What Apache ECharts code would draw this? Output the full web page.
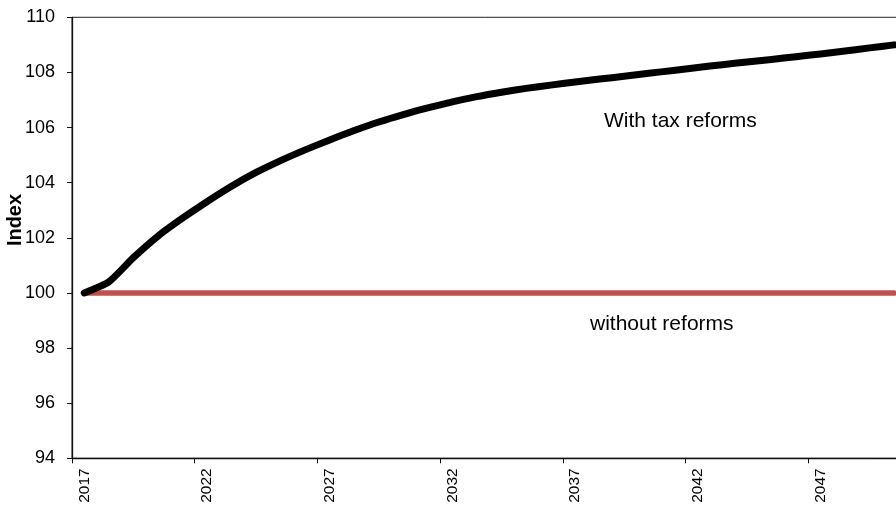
<!DOCTYPE html>
<html>
<head>
<meta charset="utf-8">
<script src="https://cdn.jsdelivr.net/npm/echarts@6/dist/echarts.min.js"></script>
<style>html,body{margin:0;padding:0;background:#fff;}#c{width:896px;height:506px;}</style>
</head>
<body>
<div id="c"></div>
<script>
const years = ['2017','2018','2019','2020','2021','2022','2023','2024','2025','2026','2027','2028','2029','2030','2031','2032','2033','2034','2035','2036','2037','2038','2039','2040','2041','2042','2043','2044','2045','2046','2047','2048','2049','2050'];
const withTaxReforms = [100.00,100.40,101.28,102.06,102.71,103.31,103.87,104.37,104.80,105.19,105.55,105.89,106.20,106.47,106.71,106.93,107.12,107.28,107.42,107.54,107.65,107.76,107.86,107.97,108.07,108.18,108.28,108.38,108.47,108.57,108.67,108.78,108.89,109.00];
const withoutReforms = [100,100,100,100,100,100,100,100,100,100,100,100,100,100,100,100,100,100,100,100,100,100,100,100,100,100,100,100,100,100,100,100,100,100];
const yTicks = {min: 94, max: 110, interval: 2};
const labels = {yName: 'Index', withLabel: 'With tax reforms', withoutLabel: 'without reforms'};

const font = 'Liberation Sans, Arial, sans-serif';
const chart = echarts.init(document.getElementById('c'), null, {renderer: 'canvas'});
chart.setOption({
  animation: false,
  backgroundColor: '#fff',
  grid: {left: 72, top: 17.3, height: 441, width: 834.4, outerBoundsMode: 'none', containLabel: false, show: true, borderColor: '#222', borderWidth: 1, backgroundColor: 'transparent'},
  xAxis: {
    type: 'category', data: years, boundaryGap: true,
    axisLine: {lineStyle: {color: '#111', width: 1.3}},
    axisTick: {show: true, interval: 4, length: 5, lineStyle: {color: '#111'}},
    axisLabel: {interval: 4, rotate: 90, margin: 10, color: '#000', fontSize: 15.5, fontFamily: font},
    splitLine: {show: false}
  },
  yAxis: {
    type: 'value', min: yTicks.min, max: yTicks.max, interval: yTicks.interval,
    axisLine: {show: true, lineStyle: {color: '#111', width: 1.3}},
    axisTick: {show: true, length: 5, lineStyle: {color: '#111'}},
    axisLabel: {margin: 17, color: '#000', fontSize: 18, fontFamily: font},
    splitLine: {show: false}
  },
  series: [
    {type: 'line', data: withoutReforms, symbol: 'none', lineStyle: {color: '#c0504d', width: 5.5, cap: 'round'}},
    {type: 'line', data: withTaxReforms, symbol: 'none', smooth: 0.2, lineStyle: {color: '#000', width: 7, cap: 'round', join: 'round'}}
  ],
  graphic: [
    {type: 'text', left: 604, top: 111, style: {text: labels.withLabel, font: '21px ' + font, fill: '#000'}},
    {type: 'text', left: 590, top: 314, style: {text: labels.withoutLabel, font: '21px ' + font, fill: '#000'}},
    {type: 'text', x: 15, y: 220, rotation: Math.PI / 2, style: {text: labels.yName, font: 'bold 20px ' + font, fill: '#000', align: 'center', verticalAlign: 'middle'}}
  ]
});
</script>
</body>
</html>
